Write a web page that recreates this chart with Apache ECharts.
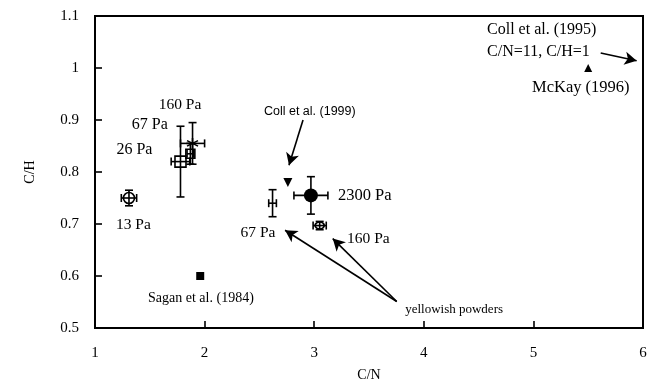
<!DOCTYPE html>
<html>
<head>
<meta charset="utf-8">
<script src="https://cdn.jsdelivr.net/npm/echarts@6/dist/echarts.min.js"></script>
<style>
  html, body { margin: 0; padding: 0; background: #fff; }
  #chart { width: 650px; height: 380px; }
</style>
</head>
<body>
<div id="chart"></div>
<script>
// Axis ranges (C/N on x, C/H on y)
const X_MIN = 1, X_MAX = 6, X_STEP = 1;
const Y_MIN = 0.5, Y_MAX = 1.1, Y_STEP = 0.1;

// Samples with uncertainties: [C/N, C/H, ±C/N, ±C/H]
const pa13      = [1.31, 0.750, 0.070, 0.015];
const pa26      = [1.78, 0.820, 0.085, 0.068];
const pa67      = [1.87, 0.835, 0.030, 0.020];
const pa160     = [1.89, 0.855, 0.110, 0.040];
const pa2300    = [2.97, 0.755, 0.155, 0.036];
const yellow67  = [2.62, 0.740, 0.035, 0.026];
const yellow160 = [3.05, 0.697, 0.060, 0.008];

// Literature values: [C/N, C/H]
const coll1999  = [2.76, 0.78];
const sagan1984 = [1.96, 0.60];
const mckay1996 = [5.50, 1.00];

// Annotation texts: [text, C/N, C/H]
const notes = [
  ['160 Pa', 1.776, 0.929],
  ['67 Pa', 1.50, 0.890],
  ['26 Pa', 1.36, 0.842],
  ['13 Pa', 1.35, 0.698],
  ['Coll et al. (1999)', 2.96, 0.917],
  ['2300 Pa', 3.217, 0.754],
  ['67 Pa', 2.487, 0.683],
  ['160 Pa', 3.30, 0.671],
  ['yellowish powders', 3.83, 0.535],
  ['Sagan et al. (1984)', 1.484, 0.558],
  ['Coll et al. (1995)', 4.577, 1.073],
  ['C/N=11, C/H=1', 4.577, 1.031],
  ['McKay (1996)', 4.987, 0.962]
];

// Pointer arrows: [from, to] in data units
const arrows = [
  [[2.898, 0.900], [2.770, 0.813]],
  [[3.753, 0.551], [2.734, 0.688]],
  [[3.753, 0.551], [3.169, 0.672]],
  [[5.614, 1.029], [5.942, 1.014]]
];

const FONT = '"Liberation Serif", "Times New Roman", serif';
const SANS = '"Liberation Sans", Arial, sans-serif';
const INK = '#000';

// Text alignment, size and face for each annotation, in the order of `notes`
const NOTE_STYLE = [
  ['center', 15.5, FONT], ['center', 16, FONT], ['center', 16, FONT], ['center', 15.5, FONT],
  ['center', 12.5, SANS], ['left', 16.5, FONT], ['center', 15.5, FONT], ['left', 15.5, FONT],
  ['left', 13, FONT], ['left', 14, FONT], ['left', 16, FONT], ['left', 16, FONT], ['left', 16.5, FONT]
];

function errorBarItem(params, api) {
  const x = api.value(0), y = api.value(1), dx = api.value(2), dy = api.value(3);
  const c = api.coord([x, y]);
  const l = api.coord([x - dx, y]), r = api.coord([x + dx, y]);
  const t = api.coord([x, y + dy]), b = api.coord([x, y - dy]);
  const cap = 4;
  const style = { stroke: INK, lineWidth: 1.6 };
  const children = [];
  const seg = (x1, y1, x2, y2) => children.push({ type: 'line', shape: { x1, y1, x2, y2 }, style });
  if (dx > 0) {
    seg(l[0], c[1], r[0], c[1]);
    seg(l[0], c[1] - cap, l[0], c[1] + cap);
    seg(r[0], c[1] - cap, r[0], c[1] + cap);
  }
  if (dy > 0) {
    seg(c[0], t[1], c[0], b[1]);
    seg(c[0] - cap, t[1], c[0] + cap, t[1]);
    seg(c[0] - cap, b[1], c[0] + cap, b[1]);
  }
  return { type: 'group', children };
}

function noteItem(params, api) {
  const n = notes[params.dataIndex];
  const s = NOTE_STYLE[params.dataIndex];
  const p = api.coord([n[1], n[2]]);
  return {
    type: 'text', x: p[0], y: p[1],
    style: { text: n[0], font: s[1] + 'px ' + s[2], fill: INK, align: s[0], verticalAlign: 'middle' }
  };
}

function marker(point, symbol, size, filled, extra) {
  return Object.assign({
    type: 'scatter', data: [point.slice(0, 2)], symbol, symbolSize: size, z: 4,
    itemStyle: filled
      ? { color: INK, borderWidth: 0, opacity: 1 }
      : { color: 'rgba(0,0,0,0)', borderColor: INK, borderWidth: 1.6, opacity: 1 }
  }, extra || {});
}

const chart = echarts.init(document.getElementById('chart'));
chart.setOption({
  animation: false,
  backgroundColor: '#fff',
  grid: {
    left: 95, right: 7, top: 16, bottom: 52, outerBoundsMode: 'none',
    show: true, borderColor: INK, borderWidth: 2
  },
  xAxis: {
    type: 'value', min: X_MIN, max: X_MAX, interval: X_STEP,
    name: 'C/N', nameLocation: 'middle', nameGap: 40,
    nameTextStyle: { fontFamily: FONT, fontSize: 14, color: INK },
    axisLine: { lineStyle: { color: INK, width: 2 } },
    axisTick: { inside: true, length: 7, lineStyle: { color: INK, width: 1.6 } },
    axisLabel: { margin: 18, fontFamily: FONT, fontSize: 15, color: INK },
    splitLine: { show: false }
  },
  yAxis: {
    type: 'value', min: Y_MIN, max: Y_MAX, interval: Y_STEP,
    name: 'C/H', nameLocation: 'middle', nameGap: 58, nameRotate: 90,
    nameTextStyle: { fontFamily: FONT, fontSize: 14, color: INK },
    axisLine: { lineStyle: { color: INK, width: 2 } },
    axisTick: { inside: true, length: 7, lineStyle: { color: INK, width: 1.6 } },
    axisLabel: { margin: 16, fontFamily: FONT, fontSize: 15, color: INK },
    splitLine: { show: false }
  },
  series: [
    {
      type: 'custom', renderItem: errorBarItem, z: 3,
      data: [pa13, pa26, pa67, pa160, pa2300, yellow67, yellow160]
    },
    marker(pa13, 'circle', 11, false),
    marker(pa26, 'rect', 11, false),
    marker(pa67, 'rect', 9, false),
    marker(pa160, 'path://M0,-10L0,10M-8.7,-5L8.7,5M-8.7,5L8.7,-5', 11, false),
    marker(yellow160, 'circle', [9, 7], false),
    marker(pa2300, 'circle', 14, true),
    marker(coll1999, 'triangle', 9, true, { symbolRotate: 180 }),
    marker(sagan1984, 'rect', 8, true),
    marker(mckay1996, 'triangle', 8, true),
    {
      type: 'scatter', data: [], symbolSize: 0,
      markLine: {
        silent: true, symbol: ['none', 'arrow'], symbolSize: [10, 12],
        lineStyle: { color: INK, width: 1.6, type: 'solid', opacity: 1 },
        label: { show: false },
        data: arrows.map(a => [{ coord: a[0] }, { coord: a[1] }])
      }
    },
    {
      type: 'custom', renderItem: noteItem, z: 5,
      data: notes.map(n => [n[1], n[2]])
    }
  ]
});
</script>
</body>
</html>
